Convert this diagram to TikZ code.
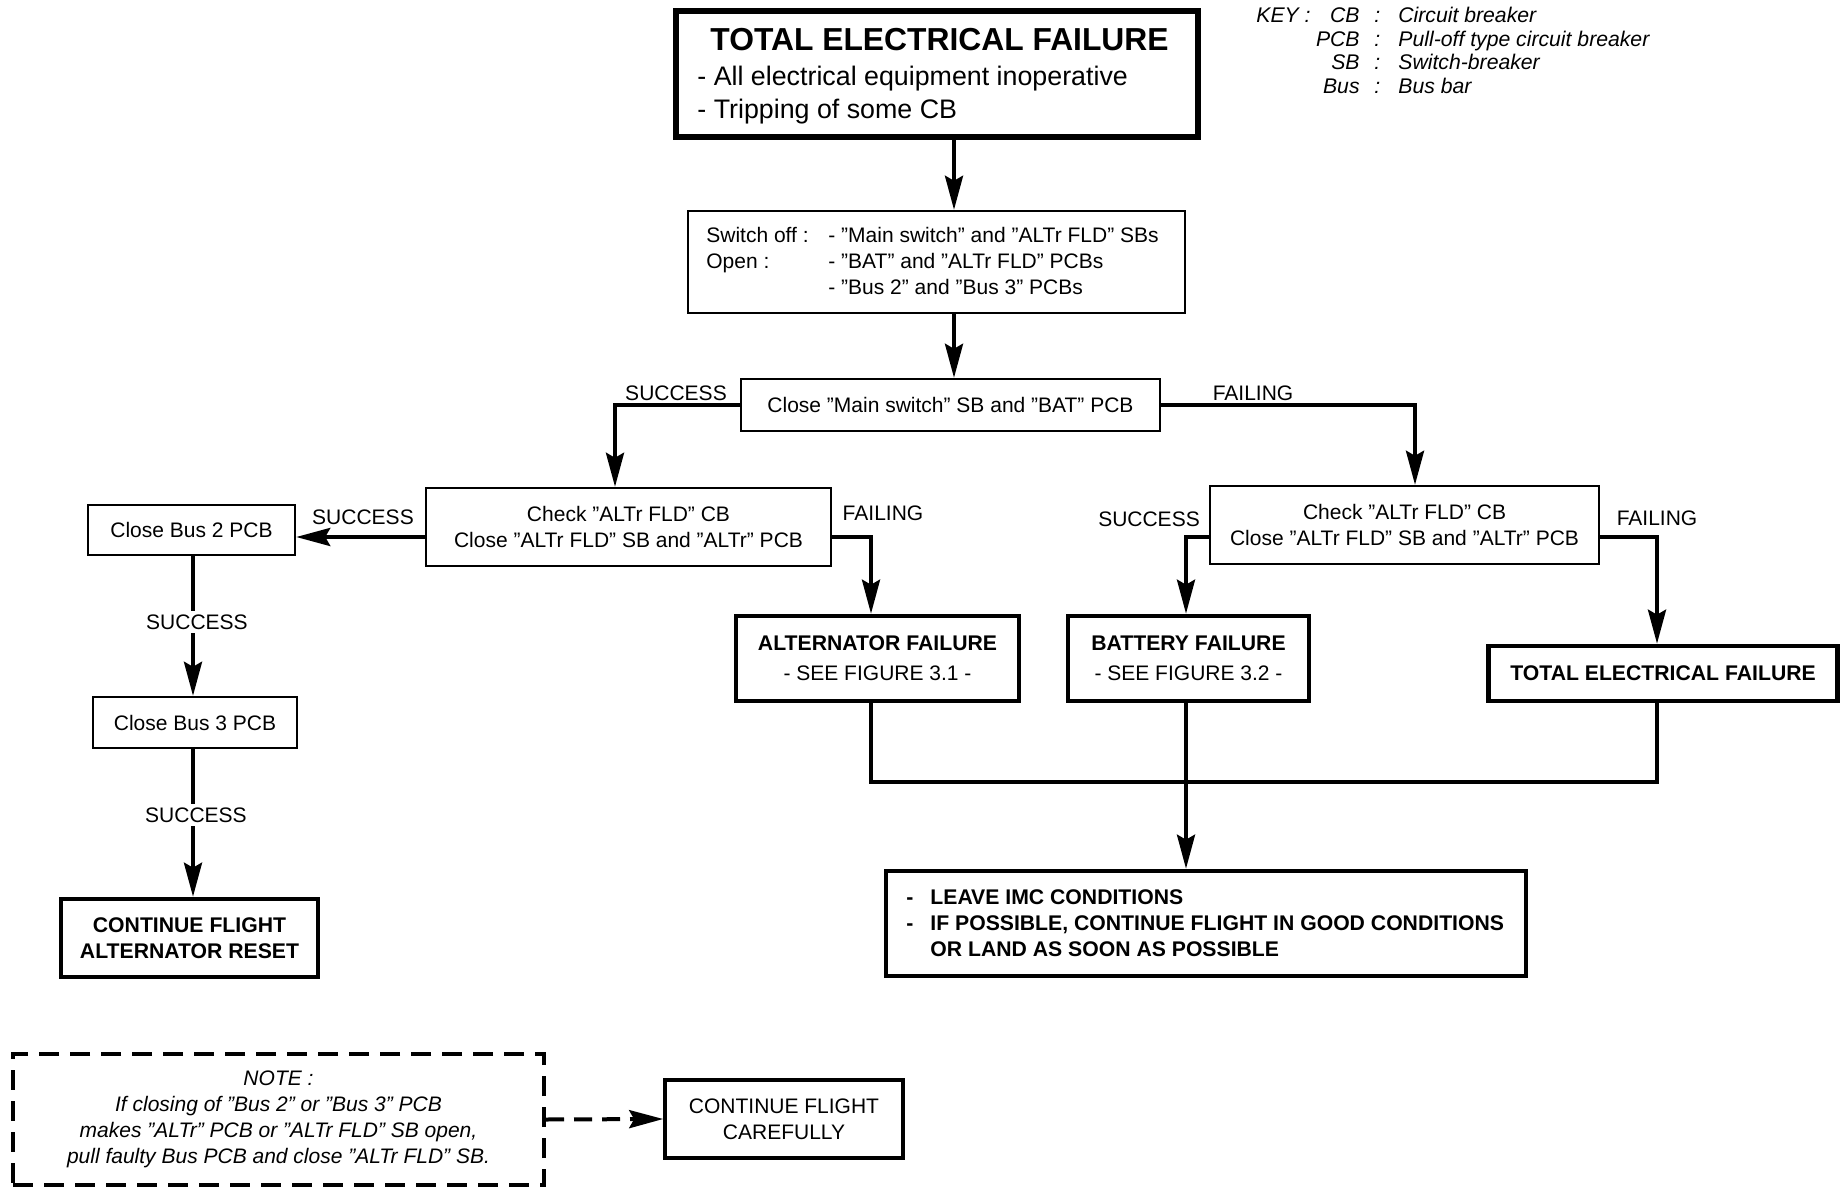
\documentclass[tikz,border=0pt]{standalone}
\usepackage{fontspec}
\setmainfont{Liberation Sans}
\usetikzlibrary{arrows.meta,calc}
\begin{document}
\begin{tikzpicture}[x=0.5pt,y=-0.5pt,
  every node/.style={font=\fontsize{10.5}{13}\selectfont, inner sep=0pt},
  box/.style={draw, line width=1.2pt, align=center},
  tbox/.style={draw, line width=2.3pt, align=center},
  conn/.style={line width=2pt, line join=miter},
  arr/.style={conn, -{Stealth[length=17pt,width=9pt,inset=2.5pt]}},
  lbl/.style={fill=white, inner sep=2pt},
  keyt/.style={font=\fontsize{10.6}{13}\selectfont\itshape},
  bld/.style={font=\fontsize{10.6}{13}\selectfont\bfseries},
]
\useasboundingbox (0,0) rectangle (1841,1187);

% ---------- top box
\node[draw, line width=2.7pt, minimum width=261pt, minimum height=63pt] (top) at (937,74) {};
\node[anchor=base, font=\fontsize{15.9}{18}\selectfont\bfseries] (topT) at (939.5,51) {TOTAL ELECTRICAL FAILURE};
\node[anchor=base west, font=\fontsize{13.4}{16}\selectfont] (topL1) at (697,86) {- All electrical equipment inoperative};
\node[anchor=base west, font=\fontsize{13.4}{16}\selectfont] (topL2) at (697,119) {- Tripping of some CB};

% ---------- key
\node[keyt, anchor=base west] (keyK) at (1256,23) {KEY :};
\node[keyt, anchor=base east] (k1) at (1360,23) {CB};
\node[keyt, anchor=base east] (k2) at (1360,47) {PCB};
\node[keyt, anchor=base east] (k3) at (1360,70) {SB};
\node[keyt, anchor=base east] (k4) at (1360,94) {Bus};
\node[keyt, anchor=base west] (c1) at (1374,23) {:};
\node[keyt, anchor=base west] (c2) at (1374,47) {:};
\node[keyt, anchor=base west] (c3) at (1374,70) {:};
\node[keyt, anchor=base west] (c4) at (1374,94) {:};
\node[keyt, anchor=base west] (d1) at (1398,23) {Circuit breaker};
\node[keyt, anchor=base west] (d2) at (1398,47) {Pull-off type circuit breaker};
\node[keyt, anchor=base west] (d3) at (1398,70) {Switch-breaker};
\node[keyt, anchor=base west] (d4) at (1398,94) {Bus bar};

% ---------- switch off box
\node[box, minimum width=248.5pt, minimum height=51pt] (sw) at (936.5,262) {};
\node[anchor=base west] (swA) at (706,243) {Switch off :};
\node[anchor=base west] (swB) at (828,243) {- ”Main switch” and ”ALTr FLD” SBs};
\node[anchor=base west] (swC) at (706,269) {Open :};
\node[anchor=base west] (swD) at (828,269) {- ”BAT” and ”ALTr FLD” PCBs};
\node[anchor=base west] (swE) at (828,295) {- ”Bus 2” and ”Bus 3” PCBs};

% ---------- close main
\node[box, minimum width=209.5pt, minimum height=26pt] (main) at (950.5,405) {Close ”Main switch” SB and ”BAT” PCB};

% ---------- check boxes
\node[box, minimum width=202.5pt, minimum height=39pt] (chkL) at (628.5,527) {Check ”ALTr FLD” CB\\Close ”ALTr FLD” SB and ”ALTr” PCB};
\node[box, minimum width=194.5pt, minimum height=39pt] (chkR) at (1404.5,525) {Check ”ALTr FLD” CB\\Close ”ALTr FLD” SB and ”ALTr” PCB};

% ---------- left column
\node[box, minimum width=103.5pt, minimum height=25pt] (bus2) at (191.5,530) {Close Bus 2 PCB};
\node[box, minimum width=102pt, minimum height=25.5pt] (bus3) at (195,722.5) {Close Bus 3 PCB};
\node[tbox, bld, minimum width=128.5pt, minimum height=39pt] (cont) at (189.5,938) {CONTINUE FLIGHT\\ALTERNATOR RESET};

% ---------- failures
\node[tbox, minimum width=141.5pt, minimum height=42.5pt, font=\fontsize{10.5}{15}\selectfont] (alt) at (877.5,658.5) {\fontsize{10.6}{15}\selectfont\bfseries ALTERNATOR FAILURE\\- SEE FIGURE 3.1 -};
\node[tbox, minimum width=120.5pt, minimum height=42.5pt, font=\fontsize{10.5}{15}\selectfont] (bat) at (1188.5,658.5) {\fontsize{10.6}{15}\selectfont\bfseries BATTERY FAILURE\\- SEE FIGURE 3.2 -};
\node[tbox, bld, minimum width=174.5pt, minimum height=27.5pt] (tot) at (1663,673.5) {TOTAL ELECTRICAL FAILURE};

% ---------- leave box
\node[tbox, minimum width=320pt, minimum height=52.5pt] (leave) at (1206,923.5) {};
\node[bld, anchor=base west] (lv1d) at (906,904) {-};
\node[bld, anchor=base west] (lv1) at (930,904) {LEAVE IMC CONDITIONS};
\node[bld, anchor=base west] (lv2d) at (906,930) {-};
\node[bld, anchor=base west] (lv2) at (930,930) {IF POSSIBLE, CONTINUE FLIGHT IN GOOD CONDITIONS};
\node[bld, anchor=base west] (lv3) at (930,956) {OR LAND AS SOON AS POSSIBLE};

% ---------- note
\node[draw, line width=2pt, dash pattern=on 10pt off 5.5pt, minimum width=265.5pt, minimum height=65.5pt, align=center, font=\fontsize{10.5}{13}\selectfont\itshape] (note) at (278.5,1119.5)
  {NOTE :\\If closing of ”Bus 2” or ”Bus 3” PCB\\makes ”ALTr” PCB or ”ALTr FLD” SB open,\\pull faulty Bus PCB and close ”ALTr FLD” SB.};
\node[draw, line width=1.8pt, minimum width=119pt, minimum height=39pt, align=center] (careful) at (784,1119) {CONTINUE FLIGHT\\CAREFULLY};

% ---------- coordinates for connector columns / rows
\coordinate (xa) at (954,0);
\coordinate (xL) at (615,0);
\coordinate (xR) at (1415,0);
\coordinate (yA) at (0,537);
\coordinate (xAlt) at (871,0);
\coordinate (xBat) at (1186,0);
\coordinate (xTot) at (1657,0);
\coordinate (xb) at (193,0);
\coordinate (jL) at (871,782);
\coordinate (jR) at (1657,782);

% ---------- connectors
\draw[arr] (top.south -| xa) -- (sw.north -| xa);
\draw[arr] (sw.south -| xa) -- (main.north -| xa);
\draw[arr] (main.west) -| (chkL.north -| xL);
\draw[arr] (main.east) -| (chkR.north -| xR);
\draw[arr] (chkL.west |- yA) -- (bus2.east |- yA);
\draw[arr] (chkL.east |- yA) -| (alt.north -| xAlt);
\draw[arr] (chkR.west |- yA) -| (bat.north -| xBat);
\draw[arr] (chkR.east |- yA) -| (tot.north -| xTot);
\draw[arr] (bus2.south -| xb) -- (bus3.north -| xb);
\draw[arr] (bus3.south -| xb) -- (cont.north -| xb);
\draw[conn] (alt.south -| jL) -- (jL) -- (jR) -- (tot.south -| jR);
\draw[arr] (bat.south -| xBat) -- (leave.north -| xBat);
\draw[arr, dash pattern=on 9pt off 5pt] (note.east) -- (careful.west);

% ---------- labels
\node (l1) at (676,393) {SUCCESS};
\node (l2) at (1253,393) {FAILING};
\node (l3) at (363,517) {SUCCESS};
\node (l4) at (883,513) {FAILING};
\node (l5) at (1149,519) {SUCCESS};
\node (l6) at (1657,518) {FAILING};
\node[lbl] (l7) at (197,622) {SUCCESS};
\node[lbl] (l8) at (196,815) {SUCCESS};
\end{tikzpicture}
\end{document}
